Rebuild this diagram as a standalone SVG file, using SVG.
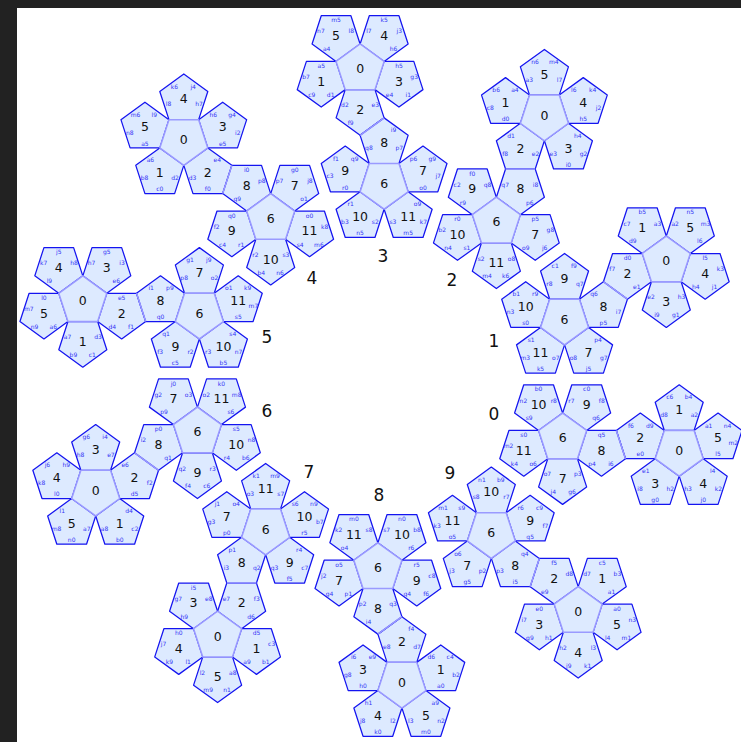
<svg xmlns="http://www.w3.org/2000/svg" width="741" height="742" viewBox="0 0 741 742">
<style>
text{font-family:"DejaVu Sans",sans-serif;text-anchor:middle}
.n{fill:#ddeaff;stroke:#1414f0;stroke-width:1.25;stroke-linejoin:round}
.h{fill:#ddeaff;stroke:#9a9aff;stroke-width:1.5;stroke-linejoin:round}
.f{stroke:#9a9aff;stroke-width:1.5}
.b{font-size:12.5px;fill:#111}
.s{font-size:6px;fill:#3535f5}
.o{font-size:17px;fill:#111}
</style>
<defs>
<polygon id="u" points="0,-25.25 24.01,-7.8 14.84,20.43 -14.84,20.43 -24.01,-7.8"/>
<polygon id="d" points="0,25.25 24.01,7.8 14.84,-20.43 -14.84,-20.43 -24.01,7.8"/>
</defs>
<rect width="741" height="742" fill="#ffffff"/>
<path d="M0 0H741V8H17V742H0Z" fill="#222222"/>

<g id="cluster3" transform="translate(360.1,69.2)">
<g id="c3-n1" transform="translate(-38.86,12.63)"><use class="n" href="#d"/><text class="b" y="4">1</text><text class="s" y="-13.8">a5</text><text class="s" x="9.4" y="15.1">d1</text><text class="s" x="-9.4" y="15.1">c9</text><text class="s" x="-15.2" y="-2.7">b7</text></g>
<g id="c3-n5" transform="translate(-24.02,-33.06)"><use class="n" href="#d"/><text class="b" y="4">5</text><text class="s" y="-13.8">m5</text><text class="s" x="15.2" y="-2.7">l8</text><text class="s" x="-9.4" y="15.1">a4</text><text class="s" x="-15.2" y="-2.7">n7</text></g>
<g id="c3-n4" transform="translate(24.02,-33.06)"><use class="n" href="#d"/><text class="b" y="4">4</text><text class="s" y="-13.8">k5</text><text class="s" x="15.2" y="-2.7">j3</text><text class="s" x="9.4" y="15.1">h6</text><text class="s" x="-15.2" y="-2.7">l7</text></g>
<g id="c3-n3" transform="translate(38.86,12.63)"><use class="n" href="#d"/><text class="b" y="4">3</text><text class="s" y="-13.8">h5</text><text class="s" x="15.2" y="-2.7">g3</text><text class="s" x="9.4" y="15.1">i1</text><text class="s" x="-9.4" y="15.1">e4</text></g>
<g id="c3-n2" transform="translate(0,40.86)"><use class="n" href="#d"/><text class="b" y="4">2</text><text class="s" x="15.2" y="-2.7">e3</text><text class="s" x="-9.4" y="15.1">f9</text><text class="s" x="-15.2" y="-2.7">d2</text></g>
<g id="c3-n8" transform="translate(24.02,73.92)"><use class="n" href="#u"/><text class="b" y="4">8</text><text class="s" x="-15.2" y="7.1">q8</text><text class="s" x="9.4" y="-10.7">i9</text><text class="s" x="15.2" y="7.1">p7</text></g>
<g id="c3-n0"><use class="h" href="#u"/><text class="b" y="4">0</text></g>
<g transform="translate(24.02,114.78)">
<g id="c3-n7" transform="translate(38.86,-12.63)"><use class="n" href="#u"/><text class="b" y="4">7</text><text class="s" y="18.2">o0</text><text class="s" x="15.2" y="7.1">j7</text><text class="s" x="9.4" y="-10.7">g9</text><text class="s" x="-9.4" y="-10.7">p6</text></g>
<g id="c3-n11" transform="translate(24.02,33.06)"><use class="n" href="#u"/><text class="b" y="4">11</text><text class="s" y="18.2">m5</text><text class="s" x="-15.2" y="7.1">s3</text><text class="s" x="9.4" y="-10.7">o9</text><text class="s" x="15.2" y="7.1">k7</text></g>
<g id="c3-n10" transform="translate(-24.02,33.06)"><use class="n" href="#u"/><text class="b" y="4">10</text><text class="s" y="18.2">n5</text><text class="s" x="-15.2" y="7.1">b3</text><text class="s" x="-9.4" y="-10.7">r1</text><text class="s" x="15.2" y="7.1">s2</text></g>
<g id="c3-n9" transform="translate(-38.86,-12.63)"><use class="n" href="#u"/><text class="b" y="4">9</text><text class="s" y="18.2">r0</text><text class="s" x="-15.2" y="7.1">c3</text><text class="s" x="-9.4" y="-10.7">f1</text><text class="s" x="9.4" y="-10.7">q9</text></g>
<g id="c3-n6"><use class="h" href="#d"/><text class="b" y="4">6</text></g>
</g>
</g>

<g id="cluster2" transform="translate(544.4,115.5)">
<g id="c2-n1" transform="translate(-38.86,-12.63)"><use class="n" href="#u"/><text class="b" y="4">1</text><text class="s" y="18.2">d0</text><text class="s" x="-15.2" y="7.1">c8</text><text class="s" x="-9.4" y="-10.7">b6</text><text class="s" x="9.4" y="-10.7">a4</text></g>
<g id="c2-n5" transform="translate(0,-40.86)"><use class="n" href="#u"/><text class="b" y="4">5</text><text class="s" x="-15.2" y="7.1">a3</text><text class="s" x="-9.4" y="-10.7">n6</text><text class="s" x="9.4" y="-10.7">m4</text><text class="s" x="15.2" y="7.1">l7</text></g>
<g id="c2-n4" transform="translate(38.86,-12.63)"><use class="n" href="#u"/><text class="b" y="4">4</text><text class="s" y="18.2">h5</text><text class="s" x="-9.4" y="-10.7">l6</text><text class="s" x="9.4" y="-10.7">k4</text><text class="s" x="15.2" y="7.1">j2</text></g>
<g id="c2-n3" transform="translate(24.02,33.06)"><use class="n" href="#u"/><text class="b" y="4">3</text><text class="s" y="18.2">i0</text><text class="s" x="-15.2" y="7.1">e3</text><text class="s" x="9.4" y="-10.7">h4</text><text class="s" x="15.2" y="7.1">g2</text></g>
<g id="c2-n2" transform="translate(-24.02,33.06)"><use class="n" href="#u"/><text class="b" y="4">2</text><text class="s" x="-15.2" y="7.1">f8</text><text class="s" x="-9.4" y="-10.7">d1</text><text class="s" x="15.2" y="7.1">e2</text></g>
<g id="c2-n8" transform="translate(-24.02,73.92)"><use class="n" href="#d"/><text class="b" y="4">8</text><text class="s" x="-15.2" y="-2.7">q7</text><text class="s" x="15.2" y="-2.7">i8</text><text class="s" x="9.4" y="15.1">p6</text></g>
<g id="c2-n0"><use class="h" href="#d"/><text class="b" y="4">0</text></g>
<g transform="translate(-48.04,106.98)">
<g id="c2-n7" transform="translate(38.86,12.63)"><use class="n" href="#d"/><text class="b" y="4">7</text><text class="s" y="-13.8">p5</text><text class="s" x="15.2" y="-2.7">g8</text><text class="s" x="9.4" y="15.1">j6</text><text class="s" x="-9.4" y="15.1">o9</text></g>
<g id="c2-n11" transform="translate(0,40.86)"><use class="n" href="#d"/><text class="b" y="4">11</text><text class="s" x="15.2" y="-2.7">o8</text><text class="s" x="9.4" y="15.1">k6</text><text class="s" x="-9.4" y="15.1">m4</text><text class="s" x="-15.2" y="-2.7">s2</text></g>
<g id="c2-n10" transform="translate(-38.86,12.63)"><use class="n" href="#d"/><text class="b" y="4">10</text><text class="s" y="-13.8">r0</text><text class="s" x="9.4" y="15.1">s1</text><text class="s" x="-9.4" y="15.1">n4</text><text class="s" x="-15.2" y="-2.7">b2</text></g>
<g id="c2-n9" transform="translate(-24.02,-33.06)"><use class="n" href="#d"/><text class="b" y="4">9</text><text class="s" y="-13.8">f0</text><text class="s" x="15.2" y="-2.7">q8</text><text class="s" x="-9.4" y="15.1">r9</text><text class="s" x="-15.2" y="-2.7">c2</text></g>
<g id="c2-n6"><use class="h" href="#u"/><text class="b" y="4">6</text></g>
</g>
</g>

<g id="cluster1" transform="translate(666.3,261.3)">
<g id="c1-n1" transform="translate(-24.02,-33.06)"><use class="n" href="#d"/><text class="b" y="4">1</text><text class="s" y="-13.8">b5</text><text class="s" x="15.2" y="-2.7">a3</text><text class="s" x="-9.4" y="15.1">d9</text><text class="s" x="-15.2" y="-2.7">c7</text></g>
<g id="c1-n5" transform="translate(24.02,-33.06)"><use class="n" href="#d"/><text class="b" y="4">5</text><text class="s" y="-13.8">n5</text><text class="s" x="15.2" y="-2.7">m3</text><text class="s" x="9.4" y="15.1">l6</text><text class="s" x="-15.2" y="-2.7">a2</text></g>
<g id="c1-n4" transform="translate(38.86,12.63)"><use class="n" href="#d"/><text class="b" y="4">4</text><text class="s" y="-13.8">l5</text><text class="s" x="15.2" y="-2.7">k3</text><text class="s" x="9.4" y="15.1">j1</text><text class="s" x="-9.4" y="15.1">h4</text></g>
<g id="c1-n3" transform="translate(0,40.86)"><use class="n" href="#d"/><text class="b" y="4">3</text><text class="s" x="15.2" y="-2.7">h3</text><text class="s" x="9.4" y="15.1">g1</text><text class="s" x="-9.4" y="15.1">i9</text><text class="s" x="-15.2" y="-2.7">e2</text></g>
<g id="c1-n2" transform="translate(-38.86,12.63)"><use class="n" href="#d"/><text class="b" y="4">2</text><text class="s" y="-13.8">d0</text><text class="s" x="9.4" y="15.1">e1</text><text class="s" x="-15.2" y="-2.7">f7</text></g>
<g id="c1-n8" transform="translate(-62.88,45.69)"><use class="n" href="#u"/><text class="b" y="4">8</text><text class="s" x="-9.4" y="-10.7">q6</text><text class="s" x="15.2" y="7.1">i7</text><text class="s" y="18.2">p5</text></g>
<g id="c1-n0"><use class="h" href="#u"/><text class="b" y="4">0</text></g>
<g transform="translate(-101.74,58.32)">
<g id="c1-n7" transform="translate(24.02,33.06)"><use class="n" href="#u"/><text class="b" y="4">7</text><text class="s" y="18.2">j5</text><text class="s" x="-15.2" y="7.1">o8</text><text class="s" x="9.4" y="-10.7">p4</text><text class="s" x="15.2" y="7.1">g7</text></g>
<g id="c1-n11" transform="translate(-24.02,33.06)"><use class="n" href="#u"/><text class="b" y="4">11</text><text class="s" y="18.2">k5</text><text class="s" x="-15.2" y="7.1">m3</text><text class="s" x="-9.4" y="-10.7">s1</text><text class="s" x="15.2" y="7.1">o7</text></g>
<g id="c1-n10" transform="translate(-38.86,-12.63)"><use class="n" href="#u"/><text class="b" y="4">10</text><text class="s" y="18.2">s0</text><text class="s" x="-15.2" y="7.1">n3</text><text class="s" x="-9.4" y="-10.7">b1</text><text class="s" x="9.4" y="-10.7">r9</text></g>
<g id="c1-n9" transform="translate(0,-40.86)"><use class="n" href="#u"/><text class="b" y="4">9</text><text class="s" x="-15.2" y="7.1">r8</text><text class="s" x="-9.4" y="-10.7">c1</text><text class="s" x="9.4" y="-10.7">f9</text><text class="s" x="15.2" y="7.1">q7</text></g>
<g id="c1-n6"><use class="h" href="#d"/><text class="b" y="4">6</text></g>
</g>
</g>

<g id="cluster0" transform="translate(679.2,450.9)">
<g id="c0-n1" transform="translate(0,-40.86)"><use class="n" href="#u"/><text class="b" y="4">1</text><text class="s" x="-15.2" y="7.1">d8</text><text class="s" x="-9.4" y="-10.7">c6</text><text class="s" x="9.4" y="-10.7">b4</text><text class="s" x="15.2" y="7.1">a2</text></g>
<g id="c0-n5" transform="translate(38.86,-12.63)"><use class="n" href="#u"/><text class="b" y="4">5</text><text class="s" y="18.2">l5</text><text class="s" x="-9.4" y="-10.7">a1</text><text class="s" x="9.4" y="-10.7">n4</text><text class="s" x="15.2" y="7.1">m2</text></g>
<g id="c0-n4" transform="translate(24.02,33.06)"><use class="n" href="#u"/><text class="b" y="4">4</text><text class="s" y="18.2">j0</text><text class="s" x="-15.2" y="7.1">h3</text><text class="s" x="9.4" y="-10.7">l4</text><text class="s" x="15.2" y="7.1">k2</text></g>
<g id="c0-n3" transform="translate(-24.02,33.06)"><use class="n" href="#u"/><text class="b" y="4">3</text><text class="s" y="18.2">g0</text><text class="s" x="-15.2" y="7.1">i8</text><text class="s" x="-9.4" y="-10.7">e1</text><text class="s" x="15.2" y="7.1">h2</text></g>
<g id="c0-n2" transform="translate(-38.86,-12.63)"><use class="n" href="#u"/><text class="b" y="4">2</text><text class="s" y="18.2">e0</text><text class="s" x="-9.4" y="-10.7">f6</text><text class="s" x="9.4" y="-10.7">d9</text></g>
<g id="c0-n8" transform="translate(-77.72,0)"><use class="n" href="#d"/><text class="b" y="4">8</text><text class="s" y="-13.8">q5</text><text class="s" x="9.4" y="15.1">i6</text><text class="s" x="-9.4" y="15.1">p4</text></g>
<g id="c0-n0"><use class="h" href="#d"/><text class="b" y="4">0</text></g>
<g transform="translate(-116.58,-12.63)">
<g id="c0-n7" transform="translate(0,40.86)"><use class="n" href="#d"/><text class="b" y="4">7</text><text class="s" x="15.2" y="-2.7">p3</text><text class="s" x="9.4" y="15.1">g6</text><text class="s" x="-9.4" y="15.1">j4</text><text class="s" x="-15.2" y="-2.7">o7</text></g>
<g id="c0-n11" transform="translate(-38.86,12.63)"><use class="n" href="#d"/><text class="b" y="4">11</text><text class="s" y="-13.8">s0</text><text class="s" x="9.4" y="15.1">o6</text><text class="s" x="-9.4" y="15.1">k4</text><text class="s" x="-15.2" y="-2.7">m2</text></g>
<g id="c0-n10" transform="translate(-24.02,-33.06)"><use class="n" href="#d"/><text class="b" y="4">10</text><text class="s" y="-13.8">b0</text><text class="s" x="15.2" y="-2.7">r8</text><text class="s" x="-9.4" y="15.1">s9</text><text class="s" x="-15.2" y="-2.7">n2</text></g>
<g id="c0-n9" transform="translate(24.02,-33.06)"><use class="n" href="#d"/><text class="b" y="4">9</text><text class="s" y="-13.8">c0</text><text class="s" x="15.2" y="-2.7">f8</text><text class="s" x="9.4" y="15.1">q6</text><text class="s" x="-15.2" y="-2.7">r7</text></g>
<g id="c0-n6"><use class="h" href="#u"/><text class="b" y="4">6</text></g>
</g>
</g>

<g id="cluster9" transform="translate(578.2,611.9)">
<g id="c9-n1" transform="translate(24.02,-33.06)"><use class="n" href="#d"/><text class="b" y="4">1</text><text class="s" y="-13.8">c5</text><text class="s" x="15.2" y="-2.7">b3</text><text class="s" x="9.4" y="15.1">a1</text><text class="s" x="-15.2" y="-2.7">d7</text></g>
<g id="c9-n5" transform="translate(38.86,12.63)"><use class="n" href="#d"/><text class="b" y="4">5</text><text class="s" y="-13.8">a0</text><text class="s" x="15.2" y="-2.7">n3</text><text class="s" x="9.4" y="15.1">m1</text><text class="s" x="-9.4" y="15.1">l4</text></g>
<g id="c9-n4" transform="translate(0,40.86)"><use class="n" href="#d"/><text class="b" y="4">4</text><text class="s" x="15.2" y="-2.7">l3</text><text class="s" x="9.4" y="15.1">k1</text><text class="s" x="-9.4" y="15.1">j9</text><text class="s" x="-15.2" y="-2.7">h2</text></g>
<g id="c9-n3" transform="translate(-38.86,12.63)"><use class="n" href="#d"/><text class="b" y="4">3</text><text class="s" y="-13.8">e0</text><text class="s" x="9.4" y="15.1">h1</text><text class="s" x="-9.4" y="15.1">g9</text><text class="s" x="-15.2" y="-2.7">i7</text></g>
<g id="c9-n2" transform="translate(-24.02,-33.06)"><use class="n" href="#d"/><text class="b" y="4">2</text><text class="s" y="-13.8">f5</text><text class="s" x="15.2" y="-2.7">d8</text><text class="s" x="-9.4" y="15.1">e9</text></g>
<g id="c9-n8" transform="translate(-62.88,-45.69)"><use class="n" href="#u"/><text class="b" y="4">8</text><text class="s" y="18.2">i5</text><text class="s" x="-15.2" y="7.1">p3</text><text class="s" x="9.4" y="-10.7">q4</text></g>
<g id="c9-n0"><use class="h" href="#u"/><text class="b" y="4">0</text></g>
<g transform="translate(-86.9,-78.75)">
<g id="c9-n7" transform="translate(-24.02,33.06)"><use class="n" href="#u"/><text class="b" y="4">7</text><text class="s" y="18.2">g5</text><text class="s" x="-15.2" y="7.1">j3</text><text class="s" x="-9.4" y="-10.7">o6</text><text class="s" x="15.2" y="7.1">p2</text></g>
<g id="c9-n11" transform="translate(-38.86,-12.63)"><use class="n" href="#u"/><text class="b" y="4">11</text><text class="s" y="18.2">o5</text><text class="s" x="-15.2" y="7.1">k3</text><text class="s" x="-9.4" y="-10.7">m1</text><text class="s" x="9.4" y="-10.7">s9</text></g>
<g id="c9-n10" transform="translate(0,-40.86)"><use class="n" href="#u"/><text class="b" y="4">10</text><text class="s" x="-15.2" y="7.1">s8</text><text class="s" x="-9.4" y="-10.7">n1</text><text class="s" x="9.4" y="-10.7">b9</text><text class="s" x="15.2" y="7.1">r7</text></g>
<g id="c9-n9" transform="translate(38.86,-12.63)"><use class="n" href="#u"/><text class="b" y="4">9</text><text class="s" y="18.2">q5</text><text class="s" x="-9.4" y="-10.7">r6</text><text class="s" x="9.4" y="-10.7">c9</text><text class="s" x="15.2" y="7.1">f7</text></g>
<g id="c9-n6"><use class="h" href="#d"/><text class="b" y="4">6</text></g>
</g>
</g>

<g id="cluster8" transform="translate(401.9,682.8)">
<g id="c8-n1" transform="translate(38.86,-12.63)"><use class="n" href="#u"/><text class="b" y="4">1</text><text class="s" y="18.2">a0</text><text class="s" x="-9.4" y="-10.7">d6</text><text class="s" x="9.4" y="-10.7">c4</text><text class="s" x="15.2" y="7.1">b2</text></g>
<g id="c8-n5" transform="translate(24.02,33.06)"><use class="n" href="#u"/><text class="b" y="4">5</text><text class="s" y="18.2">m0</text><text class="s" x="-15.2" y="7.1">l3</text><text class="s" x="9.4" y="-10.7">a9</text><text class="s" x="15.2" y="7.1">n2</text></g>
<g id="c8-n4" transform="translate(-24.02,33.06)"><use class="n" href="#u"/><text class="b" y="4">4</text><text class="s" y="18.2">k0</text><text class="s" x="-15.2" y="7.1">j8</text><text class="s" x="-9.4" y="-10.7">h1</text><text class="s" x="15.2" y="7.1">l2</text></g>
<g id="c8-n3" transform="translate(-38.86,-12.63)"><use class="n" href="#u"/><text class="b" y="4">3</text><text class="s" y="18.2">h0</text><text class="s" x="-15.2" y="7.1">g8</text><text class="s" x="-9.4" y="-10.7">i6</text><text class="s" x="9.4" y="-10.7">e9</text></g>
<g id="c8-n2" transform="translate(0,-40.86)"><use class="n" href="#u"/><text class="b" y="4">2</text><text class="s" x="-15.2" y="7.1">e8</text><text class="s" x="9.4" y="-10.7">f4</text><text class="s" x="15.2" y="7.1">d7</text></g>
<g id="c8-n8" transform="translate(-24.02,-73.92)"><use class="n" href="#d"/><text class="b" y="4">8</text><text class="s" x="-15.2" y="-2.7">p2</text><text class="s" x="15.2" y="-2.7">q3</text><text class="s" x="-9.4" y="15.1">i4</text></g>
<g id="c8-n0"><use class="h" href="#d"/><text class="b" y="4">0</text></g>
<g transform="translate(-24.02,-114.78)">
<g id="c8-n7" transform="translate(-38.86,12.63)"><use class="n" href="#d"/><text class="b" y="4">7</text><text class="s" y="-13.8">o5</text><text class="s" x="9.4" y="15.1">p1</text><text class="s" x="-9.4" y="15.1">g4</text><text class="s" x="-15.2" y="-2.7">j2</text></g>
<g id="c8-n11" transform="translate(-24.02,-33.06)"><use class="n" href="#d"/><text class="b" y="4">11</text><text class="s" y="-13.8">m0</text><text class="s" x="15.2" y="-2.7">s8</text><text class="s" x="-9.4" y="15.1">o4</text><text class="s" x="-15.2" y="-2.7">k2</text></g>
<g id="c8-n10" transform="translate(24.02,-33.06)"><use class="n" href="#d"/><text class="b" y="4">10</text><text class="s" y="-13.8">n0</text><text class="s" x="15.2" y="-2.7">b8</text><text class="s" x="9.4" y="15.1">r6</text><text class="s" x="-15.2" y="-2.7">s7</text></g>
<g id="c8-n9" transform="translate(38.86,12.63)"><use class="n" href="#d"/><text class="b" y="4">9</text><text class="s" y="-13.8">r5</text><text class="s" x="15.2" y="-2.7">c8</text><text class="s" x="9.4" y="15.1">f6</text><text class="s" x="-9.4" y="15.1">q4</text></g>
<g id="c8-n6"><use class="h" href="#u"/><text class="b" y="4">6</text></g>
</g>
</g>

<g id="cluster7" transform="translate(217.6,636.5)">
<g id="c7-n1" transform="translate(38.86,12.63)"><use class="n" href="#d"/><text class="b" y="4">1</text><text class="s" y="-13.8">d5</text><text class="s" x="15.2" y="-2.7">c3</text><text class="s" x="9.4" y="15.1">b1</text><text class="s" x="-9.4" y="15.1">a9</text></g>
<g id="c7-n5" transform="translate(0,40.86)"><use class="n" href="#d"/><text class="b" y="4">5</text><text class="s" x="15.2" y="-2.7">a8</text><text class="s" x="9.4" y="15.1">n1</text><text class="s" x="-9.4" y="15.1">m9</text><text class="s" x="-15.2" y="-2.7">l2</text></g>
<g id="c7-n4" transform="translate(-38.86,12.63)"><use class="n" href="#d"/><text class="b" y="4">4</text><text class="s" y="-13.8">h0</text><text class="s" x="9.4" y="15.1">l1</text><text class="s" x="-9.4" y="15.1">k9</text><text class="s" x="-15.2" y="-2.7">j7</text></g>
<g id="c7-n3" transform="translate(-24.02,-33.06)"><use class="n" href="#d"/><text class="b" y="4">3</text><text class="s" y="-13.8">i5</text><text class="s" x="15.2" y="-2.7">e8</text><text class="s" x="-9.4" y="15.1">h9</text><text class="s" x="-15.2" y="-2.7">g7</text></g>
<g id="c7-n2" transform="translate(24.02,-33.06)"><use class="n" href="#d"/><text class="b" y="4">2</text><text class="s" x="15.2" y="-2.7">f3</text><text class="s" x="9.4" y="15.1">d6</text><text class="s" x="-15.2" y="-2.7">e7</text></g>
<g id="c7-n8" transform="translate(24.02,-73.92)"><use class="n" href="#u"/><text class="b" y="4">8</text><text class="s" x="-9.4" y="-10.7">p1</text><text class="s" x="-15.2" y="7.1">i3</text><text class="s" x="15.2" y="7.1">q2</text></g>
<g id="c7-n0"><use class="h" href="#u"/><text class="b" y="4">0</text></g>
<g transform="translate(48.04,-106.98)">
<g id="c7-n7" transform="translate(-38.86,-12.63)"><use class="n" href="#u"/><text class="b" y="4">7</text><text class="s" y="18.2">p0</text><text class="s" x="-15.2" y="7.1">g3</text><text class="s" x="-9.4" y="-10.7">j1</text><text class="s" x="9.4" y="-10.7">o4</text></g>
<g id="c7-n11" transform="translate(0,-40.86)"><use class="n" href="#u"/><text class="b" y="4">11</text><text class="s" x="-15.2" y="7.1">o3</text><text class="s" x="-9.4" y="-10.7">k1</text><text class="s" x="9.4" y="-10.7">m9</text><text class="s" x="15.2" y="7.1">s7</text></g>
<g id="c7-n10" transform="translate(38.86,-12.63)"><use class="n" href="#u"/><text class="b" y="4">10</text><text class="s" y="18.2">r5</text><text class="s" x="-9.4" y="-10.7">s6</text><text class="s" x="9.4" y="-10.7">n9</text><text class="s" x="15.2" y="7.1">b7</text></g>
<g id="c7-n9" transform="translate(24.02,33.06)"><use class="n" href="#u"/><text class="b" y="4">9</text><text class="s" y="18.2">f5</text><text class="s" x="-15.2" y="7.1">q3</text><text class="s" x="9.4" y="-10.7">r4</text><text class="s" x="15.2" y="7.1">c7</text></g>
<g id="c7-n6"><use class="h" href="#d"/><text class="b" y="4">6</text></g>
</g>
</g>

<g id="cluster6" transform="translate(95.7,490.7)">
<g id="c6-n1" transform="translate(24.02,33.06)"><use class="n" href="#u"/><text class="b" y="4">1</text><text class="s" y="18.2">b0</text><text class="s" x="-15.2" y="7.1">a8</text><text class="s" x="9.4" y="-10.7">d4</text><text class="s" x="15.2" y="7.1">c2</text></g>
<g id="c6-n5" transform="translate(-24.02,33.06)"><use class="n" href="#u"/><text class="b" y="4">5</text><text class="s" y="18.2">n0</text><text class="s" x="-15.2" y="7.1">m8</text><text class="s" x="-9.4" y="-10.7">l1</text><text class="s" x="15.2" y="7.1">a7</text></g>
<g id="c6-n4" transform="translate(-38.86,-12.63)"><use class="n" href="#u"/><text class="b" y="4">4</text><text class="s" y="18.2">l0</text><text class="s" x="-15.2" y="7.1">k8</text><text class="s" x="-9.4" y="-10.7">j6</text><text class="s" x="9.4" y="-10.7">h9</text></g>
<g id="c6-n3" transform="translate(0,-40.86)"><use class="n" href="#u"/><text class="b" y="4">3</text><text class="s" x="-15.2" y="7.1">h8</text><text class="s" x="-9.4" y="-10.7">g6</text><text class="s" x="9.4" y="-10.7">i4</text><text class="s" x="15.2" y="7.1">e7</text></g>
<g id="c6-n2" transform="translate(38.86,-12.63)"><use class="n" href="#u"/><text class="b" y="4">2</text><text class="s" y="18.2">d5</text><text class="s" x="-9.4" y="-10.7">e6</text><text class="s" x="15.2" y="7.1">f2</text></g>
<g id="c6-n8" transform="translate(62.88,-45.69)"><use class="n" href="#d"/><text class="b" y="4">8</text><text class="s" x="-15.2" y="-2.7">i2</text><text class="s" y="-13.8">p0</text><text class="s" x="9.4" y="15.1">q1</text></g>
<g id="c6-n0"><use class="h" href="#d"/><text class="b" y="4">0</text></g>
<g transform="translate(101.74,-58.32)">
<g id="c6-n7" transform="translate(-24.02,-33.06)"><use class="n" href="#d"/><text class="b" y="4">7</text><text class="s" y="-13.8">j0</text><text class="s" x="15.2" y="-2.7">o3</text><text class="s" x="-9.4" y="15.1">p9</text><text class="s" x="-15.2" y="-2.7">g2</text></g>
<g id="c6-n11" transform="translate(24.02,-33.06)"><use class="n" href="#d"/><text class="b" y="4">11</text><text class="s" y="-13.8">k0</text><text class="s" x="15.2" y="-2.7">m8</text><text class="s" x="9.4" y="15.1">s6</text><text class="s" x="-15.2" y="-2.7">o2</text></g>
<g id="c6-n10" transform="translate(38.86,12.63)"><use class="n" href="#d"/><text class="b" y="4">10</text><text class="s" y="-13.8">s5</text><text class="s" x="15.2" y="-2.7">n8</text><text class="s" x="9.4" y="15.1">b6</text><text class="s" x="-9.4" y="15.1">r4</text></g>
<g id="c6-n9" transform="translate(0,40.86)"><use class="n" href="#d"/><text class="b" y="4">9</text><text class="s" x="15.2" y="-2.7">r3</text><text class="s" x="9.4" y="15.1">c6</text><text class="s" x="-9.4" y="15.1">f4</text><text class="s" x="-15.2" y="-2.7">q2</text></g>
<g id="c6-n6"><use class="h" href="#u"/><text class="b" y="4">6</text></g>
</g>
</g>

<g id="cluster5" transform="translate(82.8,301.1)">
<g id="c5-n1" transform="translate(0,40.86)"><use class="n" href="#d"/><text class="b" y="4">1</text><text class="s" x="15.2" y="-2.7">d3</text><text class="s" x="9.4" y="15.1">c1</text><text class="s" x="-9.4" y="15.1">b9</text><text class="s" x="-15.2" y="-2.7">a7</text></g>
<g id="c5-n5" transform="translate(-38.86,12.63)"><use class="n" href="#d"/><text class="b" y="4">5</text><text class="s" y="-13.8">l0</text><text class="s" x="9.4" y="15.1">a6</text><text class="s" x="-9.4" y="15.1">n9</text><text class="s" x="-15.2" y="-2.7">m7</text></g>
<g id="c5-n4" transform="translate(-24.02,-33.06)"><use class="n" href="#d"/><text class="b" y="4">4</text><text class="s" y="-13.8">j5</text><text class="s" x="15.2" y="-2.7">h8</text><text class="s" x="-9.4" y="15.1">l9</text><text class="s" x="-15.2" y="-2.7">k7</text></g>
<g id="c5-n3" transform="translate(24.02,-33.06)"><use class="n" href="#d"/><text class="b" y="4">3</text><text class="s" y="-13.8">g5</text><text class="s" x="15.2" y="-2.7">i3</text><text class="s" x="9.4" y="15.1">e6</text><text class="s" x="-15.2" y="-2.7">h7</text></g>
<g id="c5-n2" transform="translate(38.86,12.63)"><use class="n" href="#d"/><text class="b" y="4">2</text><text class="s" y="-13.8">e5</text><text class="s" x="9.4" y="15.1">f1</text><text class="s" x="-9.4" y="15.1">d4</text></g>
<g id="c5-n8" transform="translate(77.72,0)"><use class="n" href="#u"/><text class="b" y="4">8</text><text class="s" x="-9.4" y="-10.7">i1</text><text class="s" x="9.4" y="-10.7">p9</text><text class="s" y="18.2">q0</text></g>
<g id="c5-n0"><use class="h" href="#u"/><text class="b" y="4">0</text></g>
<g transform="translate(116.58,12.63)">
<g id="c5-n7" transform="translate(0,-40.86)"><use class="n" href="#u"/><text class="b" y="4">7</text><text class="s" x="-15.2" y="7.1">p8</text><text class="s" x="-9.4" y="-10.7">g1</text><text class="s" x="9.4" y="-10.7">j9</text><text class="s" x="15.2" y="7.1">o2</text></g>
<g id="c5-n11" transform="translate(38.86,-12.63)"><use class="n" href="#u"/><text class="b" y="4">11</text><text class="s" y="18.2">s5</text><text class="s" x="-9.4" y="-10.7">o1</text><text class="s" x="9.4" y="-10.7">k9</text><text class="s" x="15.2" y="7.1">m7</text></g>
<g id="c5-n10" transform="translate(24.02,33.06)"><use class="n" href="#u"/><text class="b" y="4">10</text><text class="s" y="18.2">b5</text><text class="s" x="-15.2" y="7.1">r3</text><text class="s" x="9.4" y="-10.7">s4</text><text class="s" x="15.2" y="7.1">n7</text></g>
<g id="c5-n9" transform="translate(-24.02,33.06)"><use class="n" href="#u"/><text class="b" y="4">9</text><text class="s" y="18.2">c5</text><text class="s" x="-15.2" y="7.1">f3</text><text class="s" x="-9.4" y="-10.7">q1</text><text class="s" x="15.2" y="7.1">r2</text></g>
<g id="c5-n6"><use class="h" href="#d"/><text class="b" y="4">6</text></g>
</g>
</g>

<g id="cluster4" transform="translate(183.8,140.1)">
<g id="c4-n1" transform="translate(-24.02,33.06)"><use class="n" href="#u"/><text class="b" y="4">1</text><text class="s" y="18.2">c0</text><text class="s" x="-15.2" y="7.1">b8</text><text class="s" x="-9.4" y="-10.7">a6</text><text class="s" x="15.2" y="7.1">d2</text></g>
<g id="c4-n5" transform="translate(-38.86,-12.63)"><use class="n" href="#u"/><text class="b" y="4">5</text><text class="s" y="18.2">a5</text><text class="s" x="-15.2" y="7.1">n8</text><text class="s" x="-9.4" y="-10.7">m6</text><text class="s" x="9.4" y="-10.7">l9</text></g>
<g id="c4-n4" transform="translate(0,-40.86)"><use class="n" href="#u"/><text class="b" y="4">4</text><text class="s" x="-15.2" y="7.1">l8</text><text class="s" x="-9.4" y="-10.7">k6</text><text class="s" x="9.4" y="-10.7">j4</text><text class="s" x="15.2" y="7.1">h7</text></g>
<g id="c4-n3" transform="translate(38.86,-12.63)"><use class="n" href="#u"/><text class="b" y="4">3</text><text class="s" y="18.2">e5</text><text class="s" x="-9.4" y="-10.7">h6</text><text class="s" x="9.4" y="-10.7">g4</text><text class="s" x="15.2" y="7.1">i2</text></g>
<g id="c4-n2" transform="translate(24.02,33.06)"><use class="n" href="#u"/><text class="b" y="4">2</text><text class="s" y="18.2">f0</text><text class="s" x="-15.2" y="7.1">d3</text><text class="s" x="9.4" y="-10.7">e4</text></g>
<g id="c4-n8" transform="translate(62.88,45.69)"><use class="n" href="#d"/><text class="b" y="4">8</text><text class="s" y="-13.8">i0</text><text class="s" x="15.2" y="-2.7">p8</text><text class="s" x="-9.4" y="15.1">q9</text></g>
<g id="c4-n0"><use class="h" href="#d"/><text class="b" y="4">0</text></g>
<g transform="translate(86.9,78.75)">
<g id="c4-n7" transform="translate(24.02,-33.06)"><use class="n" href="#d"/><text class="b" y="4">7</text><text class="s" y="-13.8">g0</text><text class="s" x="15.2" y="-2.7">j8</text><text class="s" x="9.4" y="15.1">o1</text><text class="s" x="-15.2" y="-2.7">p7</text></g>
<g id="c4-n11" transform="translate(38.86,12.63)"><use class="n" href="#d"/><text class="b" y="4">11</text><text class="s" y="-13.8">o0</text><text class="s" x="15.2" y="-2.7">k8</text><text class="s" x="9.4" y="15.1">m6</text><text class="s" x="-9.4" y="15.1">s4</text></g>
<g id="c4-n10" transform="translate(0,40.86)"><use class="n" href="#d"/><text class="b" y="4">10</text><text class="s" x="15.2" y="-2.7">s3</text><text class="s" x="9.4" y="15.1">n6</text><text class="s" x="-9.4" y="15.1">b4</text><text class="s" x="-15.2" y="-2.7">r2</text></g>
<g id="c4-n9" transform="translate(-38.86,12.63)"><use class="n" href="#d"/><text class="b" y="4">9</text><text class="s" y="-13.8">q0</text><text class="s" x="9.4" y="15.1">r1</text><text class="s" x="-9.4" y="15.1">c4</text><text class="s" x="-15.2" y="-2.7">f2</text></g>
<g id="c4-n6"><use class="h" href="#u"/><text class="b" y="4">6</text></g>
</g>
</g>

<g id="connectors">
<line class="f" y1="-14.85" y2="14.85" transform="translate(372.11,126.59) rotate(54)"/>
<line class="f" y1="-14.85" y2="14.85" transform="translate(520.38,168.99) rotate(90)"/>
<line class="f" y1="-14.85" y2="14.85" transform="translate(615.43,290.46) rotate(126)"/>
<line class="f" y1="-14.85" y2="14.85" transform="translate(620.91,444.59) rotate(162)"/>
<line class="f" y1="-14.85" y2="14.85" transform="translate(534.75,572.52) rotate(198)"/>
<line class="f" y1="-14.85" y2="14.85" transform="translate(389.89,625.41) rotate(234)"/>
<line class="f" y1="-14.85" y2="14.85" transform="translate(241.62,583.01) rotate(270)"/>
<line class="f" y1="-14.85" y2="14.85" transform="translate(146.57,461.54) rotate(306)"/>
<line class="f" y1="-14.85" y2="14.85" transform="translate(141.09,307.41) rotate(342)"/>
<line class="f" y1="-14.85" y2="14.85" transform="translate(227.25,179.48) rotate(18)"/>
</g>

<g id="ring-labels">
<text class="o" x="494" y="420">0</text>
<text class="o" x="494" y="347">1</text>
<text class="o" x="452" y="286">2</text>
<text class="o" x="383" y="262">3</text>
<text class="o" x="312" y="284">4</text>
<text class="o" x="267" y="343">5</text>
<text class="o" x="267" y="417">6</text>
<text class="o" x="309" y="478">7</text>
<text class="o" x="379" y="501">8</text>
<text class="o" x="450" y="479">9</text>
</g>
</svg>
